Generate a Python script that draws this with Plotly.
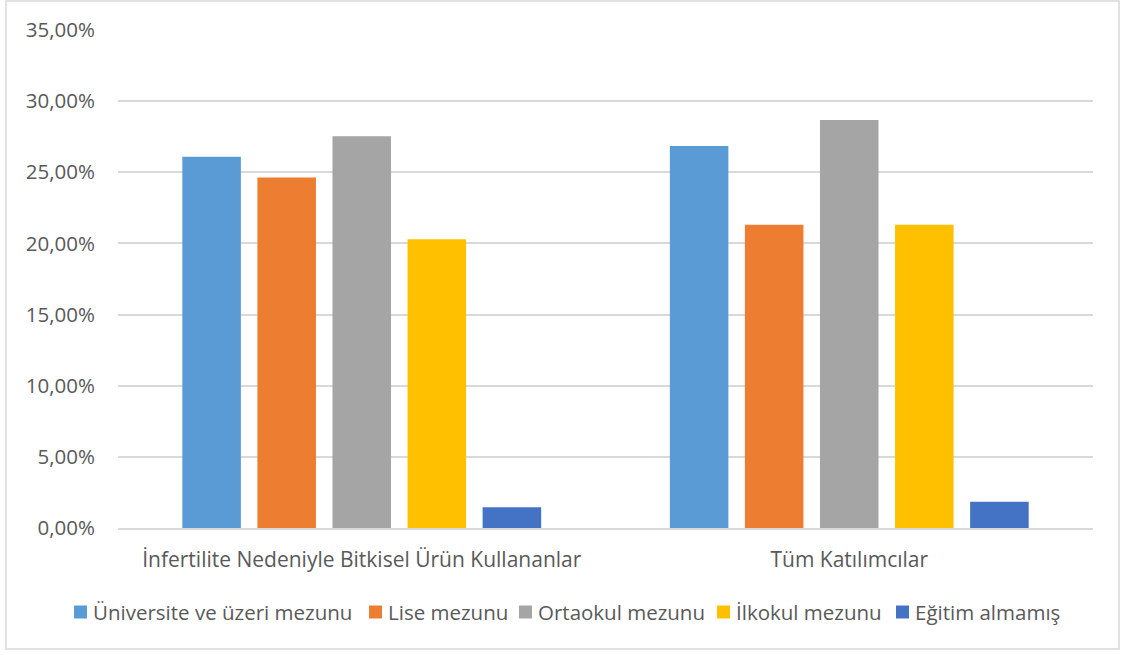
import plotly.graph_objects as go

categories = ["İnfertilite Nedeniyle Bitkisel Ürün Kullananlar", "Tüm Katılımcılar"]
series_names = ["Üniversite ve üzeri mezunu", "Lise mezunu", "Ortaokul mezunu",
                "İlkokul mezunu", "Eğitim almamış"]
values = {
    "Üniversite ve üzeri mezunu": [26.09, 26.84],
    "Lise mezunu": [24.64, 21.32],
    "Ortaokul mezunu": [27.54, 28.68],
    "İlkokul mezunu": [20.29, 21.32],
    "Eğitim almamış": [1.45, 1.84],
}
colors = ["#5B9BD5", "#ED7D31", "#A5A5A5", "#FFC000", "#4472C4"]
y_ticks = [0, 5, 10, 15, 20, 25, 30, 35]
y_ticktext = [f"{v:.2f}".replace(".", ",") + "%" for v in y_ticks]

FONT = "Open Sans"
TEXT = "#595959"
W, H = 1122, 655
ML, MR, MT, MB = 118, 29, 30, 127
PW, PH = W - ML - MR, H - MT - MB


def px_x(x):
    return (x - ML) / PW


def px_y(y):
    return (H - MB - y) / PH


fig = go.Figure()
for name, col in zip(series_names, colors):
    fig.add_trace(go.Bar(
        x=categories, y=values[name], name=name, showlegend=False,
        marker=dict(color=col, line=dict(width=0)),
    ))

# Legend row below the axis: colour swatch followed by the series name
legend_left = [74, 369, 519, 717, 896]
legend_cy = 612
shapes = [dict(type="rect", xref="paper", yref="paper",
               x0=px_x(6), x1=px_x(1119), y0=px_y(649), y1=px_y(1),
               line=dict(color="#D9D9D9", width=1.5), fillcolor="rgba(0,0,0,0)",
               layer="below")]
annotations = []
for name, col, lx in zip(series_names, colors, legend_left):
    shapes.append(dict(type="rect", xref="paper", yref="paper",
                       x0=px_x(lx), x1=px_x(lx + 13),
                       y0=px_y(legend_cy + 6.5), y1=px_y(legend_cy - 6.5),
                       fillcolor=col, line=dict(width=0)))
    annotations.append(dict(xref="paper", yref="paper", x=px_x(lx + 17),
                            y=px_y(legend_cy), xanchor="left", yanchor="middle",
                            text=name, showarrow=False,
                            font=dict(family=FONT, size=20.5, color=TEXT)))

fig.update_layout(
    width=W, height=H,
    margin=dict(l=ML, r=MR, t=MT, b=MB, autoexpand=False),
    paper_bgcolor="white", plot_bgcolor="white",
    barmode="group", bargap=0.23, bargroupgap=0.22,
    font=dict(family=FONT, size=21, color=TEXT),
    showlegend=False,
    xaxis=dict(showgrid=False, showline=True, linecolor="#D9D9D9", linewidth=1.5,
               ticks="", ticklabelstandoff=12, automargin=False,
               tickfont=dict(size=21, color=TEXT)),
    yaxis=dict(range=[0, 35], tickvals=y_ticks, ticktext=y_ticktext,
               showgrid=True, gridcolor="#D9D9D9", gridwidth=1.5,
               zeroline=False, showline=False, ticks="", ticklabelstandoff=22,
               automargin=False, tickfont=dict(size=20.5, color=TEXT)),
    shapes=shapes,
    annotations=annotations,
)

fig.write_html("out.html")
